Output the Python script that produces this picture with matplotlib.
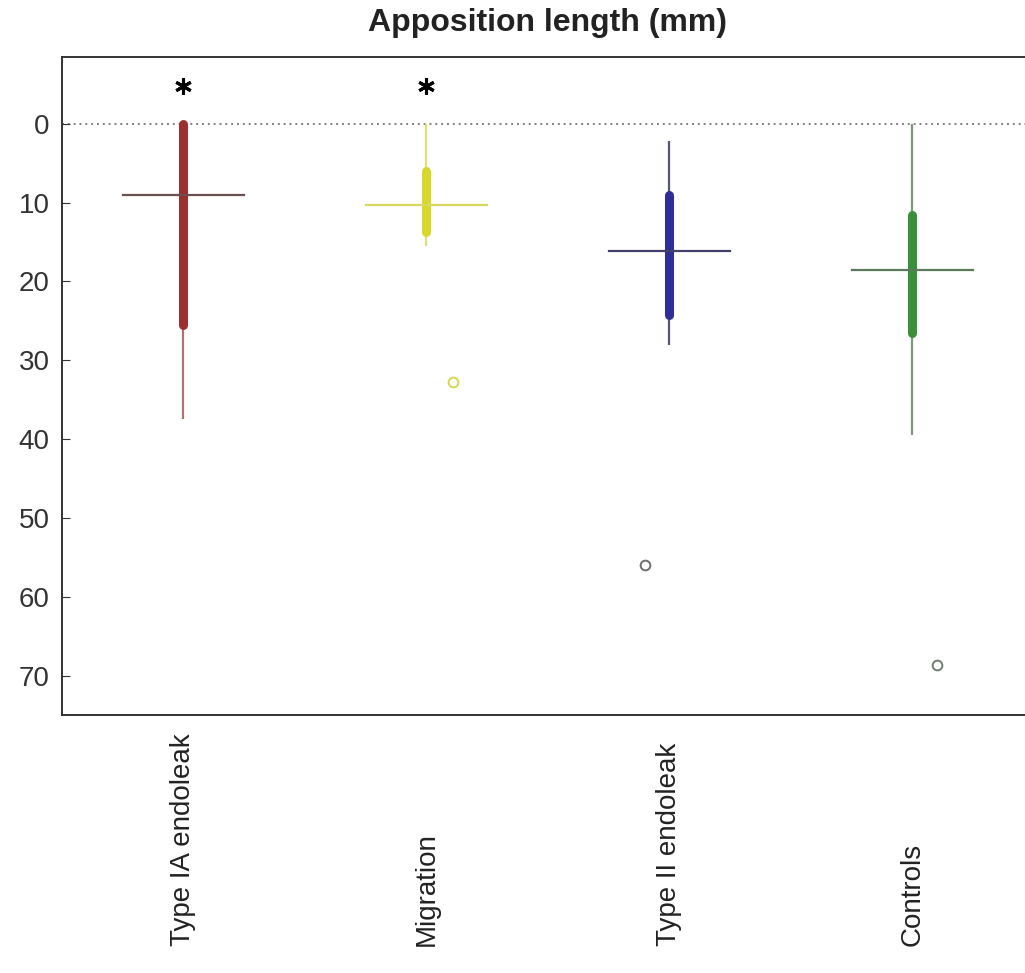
import matplotlib.pyplot as plt
import matplotlib.transforms as mtransforms
import numpy as np

# apposition length per group (mm); y-axis runs downward
groups = ["Type IA endoleak", "Migration", "Type II endoleak", "Controls"]
whisker_lo = [0.0, 0.0, 2.2, 0.0]
box_lo = [0.0, 6.0, 9.1, 11.6]
centre = [9.0, 10.3, 16.2, 18.6]
box_hi = [25.5, 13.8, 24.3, 26.6]
whisker_hi = [37.5, 15.5, 28.1, 39.5]
outliers = [[], [32.8], [56.0], [68.6]]
significant = [True, True, False, False]
star_y = -4.8

box_colors = ["#9e2f2f", "#d8d82a", "#2e2e96", "#3a8f3a"]
whisker_colors = ["#b07070", "#e0e070", "#55557a", "#7a9a7a"]
centre_colors = ["#6a5050", "#d8d860", "#40406a", "#5a7a5a"]
outlier_colors = ["#888888", "#d8d850", "#707070", "#708070"]
outlier_dx = [0.0, 0.11, -0.10, 0.10]

plt.rcParams["font.family"] = ["Liberation Sans", "DejaVu Sans"]

fig = plt.figure(figsize=(10.25, 9.73), dpi=100)
ax = fig.add_axes([0.0605, 0.265, 0.948, 0.676])

pos = np.arange(1, len(groups) + 1)
for i, x in enumerate(pos):
    ax.plot([x, x], [whisker_lo[i], whisker_hi[i]], color=whisker_colors[i],
            lw=1.6, solid_capstyle="butt", zorder=2)
    ax.plot([x, x], [box_lo[i], box_hi[i]], color=box_colors[i],
            lw=6.5, solid_capstyle="round", zorder=3)
    ax.plot([x - 0.25, x + 0.25], [centre[i], centre[i]], color=centre_colors[i],
            lw=1.6, zorder=4)
    if outliers[i]:
        ax.plot([x + outlier_dx[i]] * len(outliers[i]), outliers[i], "o",
                mfc="none", mec=outlier_colors[i], ms=7, mew=1.4, zorder=4)
    if significant[i]:
        ax.plot(x, star_y, marker=(6, 2, 0), color="black", ms=12, mew=2.2,
                zorder=5)

ax.axhline(0, color="#808080", lw=1.4, ls=(0, (1, 2)), zorder=1)

ax.set_xlim(0.5, 4.5)
ax.set_ylim(75, -8.4)
ax.set_yticks(np.arange(0, 71, 10))
ax.set_xticks([])
ax.tick_params(axis="y", direction="in", length=6, pad=9, labelsize=20,
               labelcolor="#333333", color="#333333")
for side in ["left", "bottom", "top"]:
    ax.spines[side].set_color("#333333")
    ax.spines[side].set_linewidth(1.4)
ax.spines["right"].set_visible(False)

ax.set_title("Apposition length (mm)", fontsize=23, fontweight="bold",
             color="#222222", pad=19)

# rotated group names, all starting from the same baseline
trans = mtransforms.blended_transform_factory(ax.transData, fig.transFigure)
for x, name in zip(pos, groups):
    ax.text(x, 0.028, name, transform=trans, rotation=90, ha="center",
            va="bottom", fontsize=20, color="#222222")

fig.savefig("out.png", dpi=100)
